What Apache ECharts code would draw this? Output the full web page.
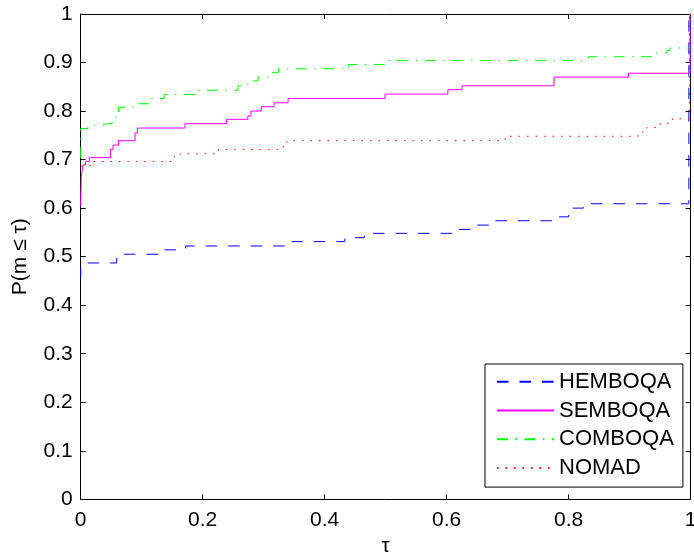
<!DOCTYPE html>
<html>
<head>
<meta charset="utf-8">
<script src="https://cdn.jsdelivr.net/npm/echarts@6/dist/echarts.min.js"></script>
<style>
  html, body { margin: 0; padding: 0; background: #fff; }
  #chart { width: 694px; height: 553px; }
</style>
</head>
<body>
<div id="chart"></div>
<script>
// Performance profiles: fraction of problems solved within ratio tau
const tickLabelsX = ['0', '0.2', '0.4', '0.6', '0.8', '1'];
const seriesNames = ['HEMBOQA', 'SEMBOQA', 'COMBOQA', 'NOMAD'];

// step positions (tau) and profile values after each step
const hemboqaTau = [0, 0, 0.059, 0.134, 0.172, 0.346, 0.433, 0.465, 0.608, 0.638, 0.676, 0.776, 0.800, 0.804, 0.824, 0.997, 1];
const hemboqaP   = [0.455, 0.487, 0.505, 0.514, 0.522, 0.531, 0.539, 0.548, 0.556, 0.565, 0.574, 0.582, 0.591, 0.600, 0.609, 1, 1];

const semboqaTau = [0, 0.001, 0.004, 0.008, 0.014, 0.049, 0.053, 0.062, 0.089, 0.093, 0.171, 0.239, 0.274, 0.279, 0.296, 0.317, 0.340, 0.499, 0.602, 0.625, 0.776, 0.898, 0.999, 1];
const semboqaP   = [0.603, 0.665, 0.689, 0.696, 0.704, 0.721, 0.730, 0.739, 0.755, 0.765, 0.774, 0.783, 0.790, 0.800, 0.809, 0.817, 0.826, 0.835, 0.844, 0.852, 0.870, 0.878, 1, 1];

const comboqaTau = [0, 0, 0.012, 0.030, 0.052, 0.058, 0.062, 0.086, 0.112, 0.137, 0.193, 0.258, 0.274, 0.291, 0.307, 0.324, 0.439, 0.499, 0.832, 0.944, 0.961, 0.966, 0.998, 1];
const comboqaP   = [0.703, 0.764, 0.771, 0.775, 0.782, 0.792, 0.808, 0.815, 0.826, 0.834, 0.843, 0.852, 0.862, 0.870, 0.879, 0.887, 0.896, 0.904, 0.912, 0.920, 0.925, 0.930, 1, 1];

const nomadTau = [0, 0.016, 0.153, 0.163, 0.226, 0.332, 0.338, 0.696, 0.914, 0.928, 0.950, 0.970, 0.998, 1];
const nomadP   = [0.687, 0.696, 0.706, 0.712, 0.721, 0.732, 0.739, 0.748, 0.757, 0.766, 0.775, 0.784, 1, 1];

const pairs = (xs, ys) => xs.map((x, i) => [x, ys[i]]);

const FONT = 'Liberation Sans, Arial, Helvetica, sans-serif';
const FS = 21;

function valueAxis(extra) {
  return Object.assign({
    type: 'value', min: 0, max: 1, interval: 0.1,
    axisLine: { show: true, onZero: false, lineStyle: { color: '#000', width: 1 } },
    axisTick: { show: true, inside: true, length: 5, lineStyle: { color: '#000', width: 1 } },
    splitLine: { show: false },
    axisLabel: { show: false }
  }, extra);
}

const chart = echarts.init(document.getElementById('chart'), null, { renderer: 'canvas' });

chart.setOption({
  animation: false,
  backgroundColor: '#fff',
  grid: { left: 80.7, right: 3.3, top: 14, bottom: 53.7, containLabel: false, outerBoundsMode: 'none' },
  xAxis: [
    valueAxis({
      position: 'bottom', interval: 0.2,
      axisLabel: {
        show: true, color: '#000', fontFamily: FONT, fontSize: FS, margin: 10,
        formatter: (v) => tickLabelsX[Math.round(v * 5)]
      },
      name: 'τ', nameLocation: 'middle', nameGap: 36,
      nameTextStyle: { color: '#000', fontFamily: FONT, fontSize: FS }
    }),
    valueAxis({ position: 'top', interval: 0.2 })
  ],
  yAxis: [
    valueAxis({
      position: 'left',
      axisLabel: {
        show: true, color: '#000', fontFamily: FONT, fontSize: FS, margin: 8,
        formatter: (v) => (Math.round(v * 10) / 10).toString()
      },
      name: 'P(m ≤ τ)', nameLocation: 'middle', nameGap: 50, nameRotate: 90,
      nameTextStyle: { color: '#000', fontFamily: FONT, fontSize: FS }
    }),
    valueAxis({ position: 'right' })
  ],
  legend: {
    orient: 'vertical', left: 485, top: 364,
    padding: [6.7, 9, 8, 11],
    itemWidth: 57, itemHeight: 14, itemGap: 6.8,
    borderColor: '#000', borderWidth: 1, backgroundColor: '#fff',
    itemStyle: { opacity: 0 },
    textStyle: { color: '#000', fontFamily: FONT, fontSize: 22 },
    data: seriesNames
  },
  series: [
    {
      name: seriesNames[0], type: 'line', step: 'end', symbol: 'none',
      data: pairs(hemboqaTau, hemboqaP),
      lineStyle: { color: '#0000ff', width: 1, type: [11.5, 11] },
      itemStyle: { color: '#0000ff' }
    },
    {
      name: seriesNames[1], type: 'line', step: 'end', symbol: 'none',
      data: pairs(semboqaTau, semboqaP),
      lineStyle: { color: '#ff00ff', width: 1, type: 'solid' },
      itemStyle: { color: '#ff00ff' }
    },
    {
      name: seriesNames[2], type: 'line', step: 'end', symbol: 'none',
      data: pairs(comboqaTau, comboqaP),
      lineStyle: { color: '#00ff00', width: 1, type: [11, 7.5, 1.5, 7.5] },
      itemStyle: { color: '#00ff00' }
    },
    {
      name: seriesNames[3], type: 'line', step: 'end', symbol: 'none',
      data: pairs(nomadTau, nomadP),
      lineStyle: { color: '#ff0000', width: 1, type: [1.5, 7] },
      itemStyle: { color: '#ff0000' }
    }
  ]
});
</script>
</body>
</html>
